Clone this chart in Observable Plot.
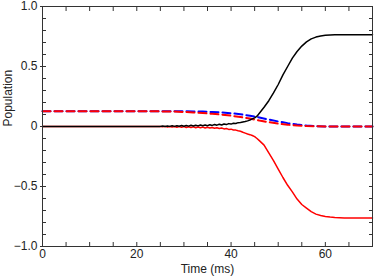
<!DOCTYPE html>
<html>
<head>
<meta charset="utf-8">
<script src="https://cdn.jsdelivr.net/npm/d3@7"></script>
<script src="https://cdn.jsdelivr.net/npm/@observablehq/plot@0.6"></script>
<style>
  html, body { margin: 0; padding: 0; background: #fff; }
  #chart svg { display: block; }
</style>
</head>
<body>
<div id="chart"></div>
<script>
// Time samples (ms) for the dashed series
const tDash = [0, 5, 10, 15, 20, 25, 28, 30, 32, 34, 36, 38, 40, 42, 44, 46, 48, 50, 52, 54, 56, 58, 60, 62, 65, 70];
const blueDash = [0.128, 0.128, 0.128, 0.128, 0.128, 0.128, 0.128, 0.127, 0.126, 0.124, 0.121, 0.117, 0.111, 0.102, 0.090, 0.075, 0.058, 0.042, 0.028, 0.016, 0.008, 0.003, 0.001, 0, 0, 0];
const redDash  = [0.127, 0.127, 0.127, 0.127, 0.127, 0.126, 0.124, 0.121, 0.117, 0.112, 0.106, 0.099, 0.090, 0.079, 0.066, 0.050, 0.036, 0.024, 0.015, 0.008, 0.004, 0.002, 0.001, 0, 0, 0];

// Time samples (ms) for the solid series
const tSolid = [0, 5, 10, 15, 20, 24,
  25, 25.5, 26, 26.5, 27, 27.5, 28, 28.5, 29, 29.5, 30, 30.5, 31, 31.5, 32, 32.5, 33, 33.5, 34, 34.5,
  35, 35.5, 36, 36.5, 37, 37.5, 38, 38.5, 39, 39.5, 40, 40.5, 41, 41.5, 42, 42.5, 43, 43.5, 44, 44.5,
  45, 45.5, 46, 47, 48, 49, 50, 51, 52, 53, 54, 55, 56, 57, 58, 59, 60, 61, 62, 64, 66, 70];
const blackSolid = [0, 0, 0, 0, 0, 0,
  0.001, 0.004, 0.000, 0.005, 0.001, 0.006, 0.001, 0.007, 0.002, 0.008, 0.002, 0.009, 0.003, 0.010, 0.004, 0.011, 0.005, 0.012, 0.006, 0.013,
  0.007, 0.015, 0.009, 0.017, 0.011, 0.019, 0.013, 0.021, 0.016, 0.024, 0.020, 0.027, 0.025, 0.032, 0.033, 0.038, 0.041, 0.047, 0.054, 0.063,
  0.072, 0.086, 0.110, 0.160, 0.215, 0.280, 0.350, 0.430, 0.500, 0.570, 0.625, 0.670, 0.705, 0.730, 0.745, 0.755, 0.760, 0.763, 0.764, 0.765, 0.765, 0.765];
const redSolid = [0, 0, 0, 0, 0, 0,
  0.000, -0.003, 0.001, -0.004, 0.000, -0.005, 0.000, -0.006, -0.001, -0.007, -0.001, -0.008, -0.002, -0.009, -0.003, -0.010, -0.004, -0.011, -0.005, -0.012,
  -0.006, -0.013, -0.008, -0.015, -0.010, -0.017, -0.013, -0.020, -0.017, -0.024, -0.022, -0.029, -0.030, -0.036, -0.040, -0.048, -0.055, -0.062, -0.068, -0.075,
  -0.085, -0.100, -0.118, -0.155, -0.220, -0.285, -0.355, -0.425, -0.490, -0.545, -0.605, -0.650, -0.680, -0.710, -0.730, -0.742, -0.750, -0.755, -0.758, -0.762, -0.763, -0.763];

// Axis ticks and labels
const xTicks = [0, 5, 10, 15, 20, 25, 30, 35, 40, 45, 50, 55, 60, 65, 70];
const xTickLabels = [0, 20, 40, 60];
const yTicks = [-1, -0.9, -0.8, -0.7, -0.6, -0.5, -0.4, -0.3, -0.2, -0.1, 0, 0.1, 0.2, 0.3, 0.4, 0.5, 0.6, 0.7, 0.8, 0.9, 1];
const yTickLabels = [-1, -0.5, 0, 0.5, 1];
const xLabel = "Time (ms)";
const yLabel = "Population";

const dashData = tDash.map((t, i) => ({t, blue: blueDash[i], red: redDash[i]}));
const solidData = tSolid.map((t, i) => ({t, black: blackSolid[i], red: redSolid[i]}));

const fmtY = d => d === 0 ? "0" : d3.format(".1f")(d);
const axisColor = "#333";

const chart = Plot.plot({
  width: 374,
  height: 278,
  marginLeft: 42,
  marginRight: 2,
  marginTop: 6,
  marginBottom: 32,
  style: {fontFamily: "'Liberation Sans', Arial, sans-serif", fontSize: "12px", color: "#222", background: "#fff", overflow: "visible"},
  x: {domain: [0, 70]},
  y: {domain: [-1, 1]},
  marks: [
    // inward ticks on all four sides
    Plot.axisX(xTicks, {anchor: "bottom", tickSize: -4, tickFormat: () => "", stroke: axisColor, label: null}),
    Plot.axisX(xTicks, {anchor: "top", tickSize: -4, tickFormat: () => "", stroke: axisColor, label: null}),
    Plot.axisY(yTicks, {anchor: "left", tickSize: -4, tickFormat: () => "", stroke: axisColor, label: null}),
    Plot.axisY(yTicks, {anchor: "right", tickSize: -4, tickFormat: () => "", stroke: axisColor, label: null}),
    // labelled ticks
    Plot.axisX(xTickLabels, {anchor: "bottom", tickSize: 0, tickPadding: 3, tickFormat: d => String(d), label: null, fill: "#222"}),
    Plot.axisY(yTickLabels, {anchor: "left", tickSize: 2, tickPadding: 3, tickFormat: fmtY, label: null, stroke: axisColor, fill: "#222"}),
    Plot.text([xLabel], {frameAnchor: "bottom", dy: 26, text: d => d, fill: "#222", fontSize: 12}),
    Plot.text([yLabel], {frameAnchor: "left", dx: -34, rotate: -90, text: d => d, fill: "#222", fontSize: 12}),
    // series
    Plot.line(dashData, {x: "t", y: "blue", stroke: "#0000ff", strokeWidth: 2, strokeDasharray: "8,4"}),
    Plot.line(dashData, {x: "t", y: "red", stroke: "#ff0000", strokeWidth: 2, strokeDasharray: "8,4"}),
    Plot.line(solidData, {x: "t", y: "red", stroke: "#ff0000", strokeWidth: 1.5}),
    Plot.line(solidData, {x: "t", y: "black", stroke: "#000", strokeWidth: 1.5}),
    Plot.frame({stroke: axisColor})
  ]
});
document.getElementById("chart").appendChild(chart);
</script>
</body>
</html>
